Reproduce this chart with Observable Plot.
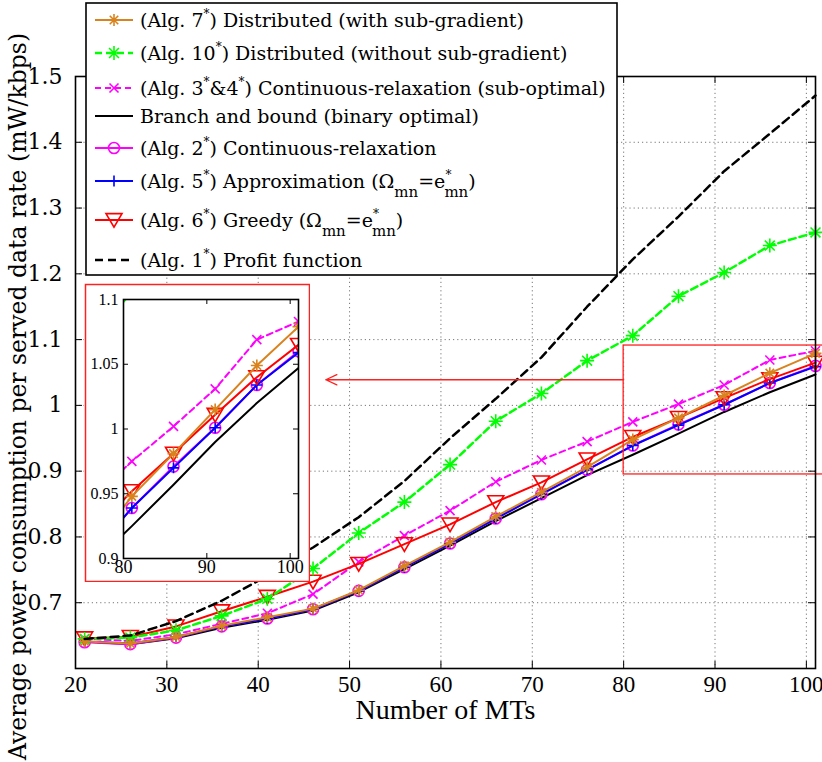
<!DOCTYPE html>
<html><head><meta charset="utf-8">
<script src="https://cdn.jsdelivr.net/npm/d3@7"></script>
<script src="https://cdn.jsdelivr.net/npm/@observablehq/plot@0.6"></script>
<style>
body{margin:0;background:#fff;}
#wrap{position:relative;width:822px;height:762px;overflow:hidden;background:#fff;}
#wrap > svg{position:absolute;}
</style></head><body><div id="wrap"></div>
<script>
// ---------------- data ----------------
const mts = [21,26,31,36,41,46,51,56,61,66,71,76,81,86,91,96,101];
const alg7  = [0.641,0.638,0.648,0.665,0.678,0.691,0.719,0.756,0.792,0.831,0.868,0.906,0.948,0.981,1.015,1.049,1.079];
const alg10 = [0.645,0.647,0.658,0.680,0.706,0.752,0.806,0.853,0.910,0.976,1.018,1.068,1.106,1.166,1.202,1.243,1.263];
const alg34 = [0.645,0.642,0.652,0.668,0.684,0.713,0.762,0.802,0.840,0.884,0.917,0.945,0.975,1.002,1.031,1.069,1.083];
const bnb   = [0.641,0.637,0.646,0.662,0.674,0.688,0.716,0.751,0.787,0.824,0.859,0.894,0.925,0.957,0.990,1.020,1.047];
const alg2  = [0.640,0.637,0.647,0.664,0.676,0.690,0.718,0.754,0.790,0.828,0.865,0.902,0.939,0.971,1.001,1.034,1.060];
const alg5  = [0.641,0.638,0.648,0.664,0.676,0.690,0.718,0.754,0.790,0.828,0.865,0.902,0.939,0.970,1.001,1.034,1.059];
const alg6  = [0.646,0.648,0.664,0.687,0.709,0.732,0.759,0.789,0.819,0.853,0.883,0.918,0.952,0.981,1.011,1.040,1.065];
const alg1  = [0.645,0.650,0.672,0.703,0.741,0.784,0.830,0.885,0.950,1.010,1.073,1.150,1.222,1.287,1.356,1.413,1.471];

const xTicks = [20,30,40,50,60,70,80,90,100];
const yTicks = [0.7,0.8,0.9,1,1.1,1.2,1.3,1.4,1.5];
const insetXTicks = [80,90,100];
const insetYTicks = [0.9,0.95,1,1.05,1.1];
const xDomain = [20,101];
const yDomain = [0.6,1.5];
const insetXDomain = [80,101];
const insetYDomain = [0.9,1.1];
const zoomBox = [{x1:80, x2:104, y1:0.895, y2:1.091}];
const zoomArrow = [{x1:80, x2:47.4, y:1.039}];
const xLabel = "Number of MTs";
const yLabel = "Average power consumption per served data rate (mW/kbps)";

// legend labels: segments [text, kind]
const legendLabels = {
  alg7:  [["(Alg. 7"],["*","sup"],[") Distributed (with sub-gradient)"]],
  alg10: [["(Alg. 10"],["*","sup"],[") Distributed (without sub-gradient)"]],
  alg34: [["(Alg. 3"],["*","sup"],["&4"],["*","sup"],[") Continuous-relaxation (sub-optimal)"]],
  bnb:   [["Branch and bound (binary optimal)"]],
  alg2:  [["(Alg. 2"],["*","sup"],[") Continuous-relaxation"]],
  alg5:  [["(Alg. 5"],["*","sup"],[") Approximation ("],["Ω"],["mn","sub"],["=e"],["*","sup"],["mn","subback"],[")"]],
  alg6:  [["(Alg. 6"],["*","sup"],[") Greedy ("],["Ω"],["mn","sub"],["=e"],["*","sup"],["mn","subback"],[")"]],
  alg1:  [["(Alg. 1"],["*","sup"],[") Profit function"]]
};

// ---------------- symbols ----------------
function sym(fn){ return {draw(c,size){ fn(c, Math.sqrt(size/Math.PI)); }}; }
const star8 = sym((c,r)=>{const d=r*Math.SQRT1_2; c.moveTo(0,-r);c.lineTo(0,r);c.moveTo(-r,0);c.lineTo(r,0);c.moveTo(-d,-d);c.lineTo(d,d);c.moveTo(-d,d);c.lineTo(d,-d);});
const plus  = sym((c,r)=>{c.moveTo(0,-r);c.lineTo(0,r);c.moveTo(-r,0);c.lineTo(r,0);});
const times = sym((c,r)=>{c.moveTo(-r,-r);c.lineTo(r,r);c.moveTo(-r,r);c.lineTo(r,-r);});
const triDown = sym((c,r)=>{c.moveTo(-r,-0.8*r);c.lineTo(r,-0.8*r);c.lineTo(0,0.9*r);c.closePath();});
const circ  = sym((c,r)=>{c.moveTo(r,0);c.arc(0,0,r,0,2*Math.PI);});

// ---------------- series styles ----------------
const series = {
  alg7:  {values:alg7,  color:"#D9831F", width:2,   dash:undefined, symbol:star8,  r:6},
  alg10: {values:alg10, color:"#00FF00", width:2.5, dash:"7,4",     symbol:star8,  r:7},
  alg34: {values:alg34, color:"#FF00FF", width:2,   dash:"6,4",     symbol:times,  r:4.5},
  bnb:   {values:bnb,   color:"#000000", width:2,   dash:undefined, symbol:null,   r:0},
  alg2:  {values:alg2,  color:"#FF00FF", width:2,   dash:undefined, symbol:circ,   r:5.5},
  alg5:  {values:alg5,  color:"#0000FF", width:2,   dash:undefined, symbol:plus,   r:5.5},
  alg6:  {values:alg6,  color:"#FF0000", width:2,   dash:undefined, symbol:triDown,r:8},
  alg1:  {values:alg1,  color:"#000000", width:2.5, dash:"8,5",     symbol:null,   r:0}
};
const legendOrder = ["alg7","alg10","alg34","bnb","alg2","alg5","alg6","alg1"];
const drawOrder   = ["bnb","alg2","alg5","alg34","alg6","alg10","alg7","alg1"];

function seriesMarks(key, extra={}) {
  const s = series[key];
  const rows = mts.map((x,i)=>({x, y:s.values[i]}));
  const m = [Plot.line(rows, {x:"x", y:"y", stroke:s.color, strokeWidth:s.width, strokeDasharray:s.dash, ...extra})];
  if (s.symbol) m.push(Plot.dot(rows, {x:"x", y:"y", symbol:s.symbol, r:s.r, stroke:s.color, fill:"none", strokeWidth:1.6, ...extra}));
  return m;
}

const grid = {stroke:"#777", strokeOpacity:1, strokeDasharray:"1.2,3", strokeWidth:1};

// ---------------- main plot ----------------
const W=822, H=762, ML=75, MR=7, MT=76, MB=94;
const PW = W-ML-MR, PH = H-MT-MB;
const main = Plot.plot({
  width:W, height:H, marginLeft:ML, marginRight:MR, marginTop:MT, marginBottom:MB,
  x:{domain:xDomain}, y:{domain:yDomain},
  style:{fontFamily:"DejaVu Serif", background:"white", color:"black"},
  marks:[
    Plot.gridX(xTicks, grid),
    Plot.gridY(yTicks, grid),
    ...drawOrder.flatMap(k=>seriesMarks(k)),
    Plot.rect(zoomBox, {x1:"x1", x2:"x2", y1:"y1", y2:"y2", fill:"none", stroke:"#FF2020", strokeWidth:1.3}),
    Plot.arrow(zoomArrow, {x1:"x1", x2:"x2", y1:"y", y2:"y", stroke:"#FF2020", strokeWidth:1.3, headLength:14, headAngle:50}),
    Plot.tickY(yTicks, {y:d=>d, insetRight:PW-7, stroke:"black"}),
    Plot.tickY(yTicks, {y:d=>d, insetLeft:PW-7, stroke:"black"}),
    Plot.tickX(xTicks, {x:d=>d, insetTop:PH-7, stroke:"black"}),
    Plot.tickX(xTicks, {x:d=>d, insetBottom:PH-7, stroke:"black"}),
    Plot.axisX(xTicks, {tickSize:0, tickPadding:7, fontSize:23, fontFamily:"Liberation Serif", label:null, tickFormat:d=>String(d)}),
    Plot.axisY(yTicks, {tickSize:0, tickPadding:13, fontSize:22, fontFamily:"DejaVu Serif", label:null, tickFormat:d=>String(d)}),
    Plot.frame({stroke:"black", strokeWidth:1.6}),
    Plot.text([xLabel], {frameAnchor:"bottom", lineAnchor:"middle", textAnchor:"middle", dy:42, fontSize:28, fontFamily:"Liberation Serif", fill:"black"}),
    Plot.text([yLabel], {frameAnchor:"left", lineAnchor:"middle", textAnchor:"middle", rotate:-90, dx:-57, dy:24, fontSize:23.5, fontFamily:"DejaVu Serif", fill:"black"})
  ]
});
main.style.left="0px"; main.style.top="0px";
document.getElementById("wrap").appendChild(main);

// ---------------- legend ----------------
const LG = {left:86, top:3, right:617, bottom:275, rows:[20,53,88,116,148,181,220,260], x1:95, x2:133, tx:140, fs:19};
const lsvg = d3.select("#wrap").append("svg")
  .attr("width",W).attr("height",H).style("left","0px").style("top","0px");
lsvg.append("rect").attr("x",LG.left).attr("y",LG.top).attr("width",LG.right-LG.left).attr("height",LG.bottom-LG.top)
  .attr("fill","white").attr("stroke","black").attr("stroke-width",1.6);
legendOrder.forEach((k,i)=>{
  const s = series[k], y = LG.rows[i];
  lsvg.append("line").attr("x1",LG.x1).attr("x2",LG.x2).attr("y1",y).attr("y2",y)
    .attr("stroke",s.color).attr("stroke-width",s.width).attr("stroke-dasharray",s.dash||null);
  if (s.symbol) lsvg.append("path").attr("transform",`translate(${(LG.x1+LG.x2)/2},${y})`)
    .attr("d", d3.symbol(s.symbol, Math.PI*s.r*s.r)()).attr("fill","none").attr("stroke",s.color).attr("stroke-width",1.6);
  const t = lsvg.append("text").attr("x",LG.tx).attr("y",y+7).attr("font-family","DejaVu Serif").attr("font-size",LG.fs).attr("fill","black");
  let off = 0;
  legendLabels[k].forEach(([txt,kind])=>{
    const ts = t.append("tspan").text(txt);
    let target = 0, dx = 0, fs = LG.fs;
    if (kind==="sup") { target=-9; fs=12; }
    else if (kind==="sub") { target=9; fs=15; }
    else if (kind==="subback") { target=9; fs=15; dx=-7; }
    ts.attr("dy", target-off).attr("font-size",fs);
    if (dx) ts.attr("dx",dx);
    off = target;
  });
});

// ---------------- inset ----------------
const IW=226, IH=299, IML=39, IMR=12, IMT=16, IMB=24;
const IPW=IW-IML-IMR, IPH=IH-IMT-IMB;
const inset = Plot.plot({
  width:IW, height:IH, marginLeft:IML, marginRight:IMR, marginTop:IMT, marginBottom:IMB,
  x:{domain:insetXDomain}, y:{domain:insetYDomain},
  style:{background:"white", color:"black"},
  marks:[
    ...drawOrder.flatMap(k=>seriesMarks(k,{clip:true})),
    Plot.tickY(insetYTicks, {y:d=>d, insetRight:IPW-5, stroke:"black"}),
    Plot.tickY(insetYTicks, {y:d=>d, insetLeft:IPW-5, stroke:"black"}),
    Plot.tickX(insetXTicks, {x:d=>d, insetTop:IPH-5, stroke:"black"}),
    Plot.tickX(insetXTicks, {x:d=>d, insetBottom:IPH-5, stroke:"black"}),
    Plot.axisX(insetXTicks, {tickSize:0, tickPadding:2, fontSize:18, fontFamily:"Liberation Serif", label:null, tickFormat:d=>String(d)}),
    Plot.axisY(insetYTicks, {tickSize:0, tickPadding:5, fontSize:16, fontFamily:"Liberation Serif", label:null, tickFormat:d=>String(d)}),
    Plot.frame({stroke:"black", strokeWidth:1.6}),
    Plot.frame({stroke:"#FF2020", strokeWidth:1.5, insetLeft:-(IML-1), insetRight:-(IMR-1), insetTop:-(IMT-1), insetBottom:-(IMB-1)})
  ]
});
inset.style.left="84px"; inset.style.top="283px";
document.getElementById("wrap").appendChild(inset);
</script></body></html>
